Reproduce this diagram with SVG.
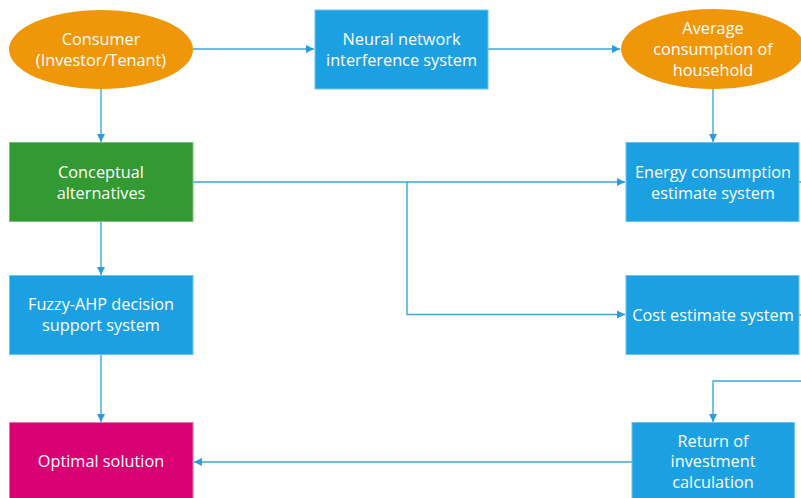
<svg xmlns="http://www.w3.org/2000/svg" width="801" height="498" viewBox="0 0 801 498">
<style>
.t{font-family:"Open Sans","Noto Sans","Liberation Sans",sans-serif;font-size:16.3px;fill:#ffffff;text-anchor:middle}
.blue{fill:#1ba1e2;stroke:#6cc3ee;stroke-width:1}
.orange{fill:#f09609}
.green{fill:#339933;stroke:#7cc27c;stroke-width:1}
.mag{fill:#d80073;stroke:#ee6fae;stroke-width:1}
.c{fill:none;stroke:#3ea6de;stroke-width:1.4}
</style>
<defs>
<marker id="ah" markerUnits="userSpaceOnUse" markerWidth="10" markerHeight="10" viewBox="0 0 10 10" refX="9" refY="5" orient="auto">
<path d="M1,1 L9,5 L1,9 Z" fill="#2b9cd8"/>
</marker>
</defs>
<rect width="801" height="498" fill="#ffffff"/>
<g id="connectors">
<path class="c" d="M193,49 H314" marker-end="url(#ah)"/>
<path class="c" d="M488,49 H620" marker-end="url(#ah)"/>
<path class="c" d="M713,89 V142" marker-end="url(#ah)"/>
<path class="c" d="M101,89 V142" marker-end="url(#ah)"/>
<path class="c" d="M193,182 H625" marker-end="url(#ah)"/>
<path class="c" d="M407,182 V314.5 H625" marker-end="url(#ah)"/>
<path class="c" d="M101,222 V275" marker-end="url(#ah)"/>
<path class="c" d="M101,355 V422" marker-end="url(#ah)"/>
<path class="c" d="M799,182 H810"/>
<path class="c" d="M799,315 H810"/>
<path class="c" d="M810,381 H713 V422" marker-end="url(#ah)"/>
<path class="c" d="M632,462 H194" marker-end="url(#ah)"/>
</g>
<g id="consumer">
<ellipse class="orange" cx="101" cy="49.5" rx="92" ry="39.5"/>
<text class="t" x="101" y="45">Consumer</text>
<text class="t" x="101" y="66">(Investor/Tenant)</text>
</g>
<g id="neural">
<rect class="blue" x="315" y="10" width="173" height="79"/>
<text class="t" x="401.5" y="45">Neural network</text>
<text class="t" x="401.5" y="66">interference system</text>
</g>
<g id="average">
<ellipse class="orange" cx="713" cy="49" rx="92" ry="40"/>
<text class="t" x="713" y="34">Average</text>
<text class="t" x="713" y="55">consumption of</text>
<text class="t" x="713" y="76">household</text>
</g>
<g id="conceptual">
<rect class="green" x="9.5" y="142.5" width="183.5" height="79"/>
<text class="t" x="101" y="178">Conceptual</text>
<text class="t" x="101" y="199">alternatives</text>
</g>
<g id="energy">
<rect class="blue" x="626" y="142.5" width="173" height="79"/>
<text class="t" x="713" y="178">Energy consumption</text>
<text class="t" x="713" y="199">estimate system</text>
</g>
<g id="fuzzy">
<rect class="blue" x="9.5" y="275.5" width="183.5" height="79"/>
<text class="t" x="101" y="310">Fuzzy-AHP decision</text>
<text class="t" x="101" y="331">support system</text>
</g>
<g id="cost">
<rect class="blue" x="626" y="275.5" width="173" height="79"/>
<text class="t" x="713" y="321">Cost estimate system</text>
</g>
<g id="return">
<rect class="blue" x="632" y="422.5" width="162.5" height="85"/>
<text class="t" x="713" y="446.5">Return of</text>
<text class="t" x="713" y="467">investment</text>
<text class="t" x="713" y="488">calculation</text>
</g>
<g id="optimal">
<rect class="mag" x="9.5" y="422.5" width="183.5" height="85"/>
<text class="t" x="101" y="467">Optimal solution</text>
</g>
</svg>
